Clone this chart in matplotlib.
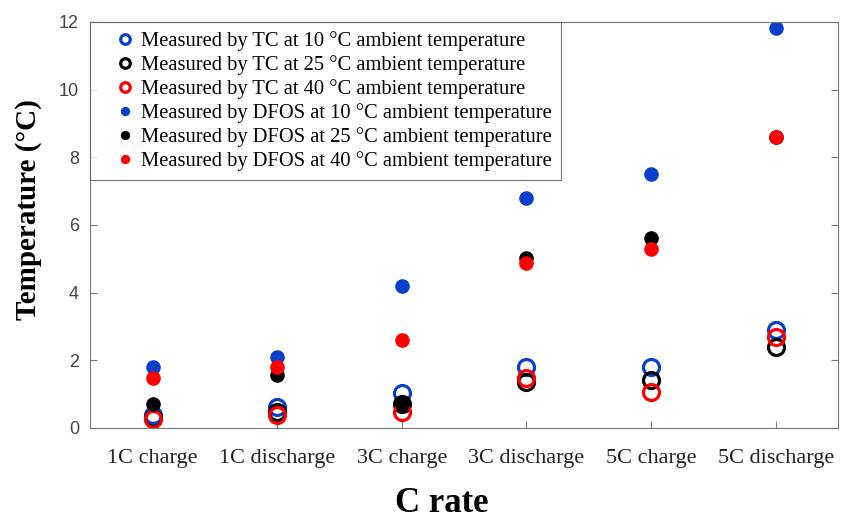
import matplotlib.pyplot as plt
import numpy as np

categories = ['1C charge', '1C discharge', '3C charge', '3C discharge', '5C charge', '5C discharge']

tc_10 = [0.38, 0.61, 1.03, 1.81, 1.79, 2.90]
tc_25 = [0.30, 0.48, 0.71, 1.35, 1.42, 2.38]
tc_40 = [0.26, 0.38, 0.48, 1.49, 1.07, 2.70]
dfos_10 = [1.80, 2.11, 4.18, 6.79, 7.51, 11.82]
dfos_25 = [0.70, 1.57, 0.72, 5.02, 5.60, 8.60]
dfos_40 = [1.49, 1.79, 2.60, 4.87, 5.28, 8.60]

blue = '#0a3fcc'
serif = ['Liberation Serif', 'DejaVu Serif']

x = np.arange(1, len(categories) + 1)

fig = plt.figure(figsize=(8.43, 5.2), dpi=100)
ax = fig.add_axes([0.107, 0.177, 0.887, 0.781])

ax.plot(x, tc_10, 'o', mfc='none', mec=blue, mew=2.3, ms=11.5, label='Measured by TC at 10 \u00b0C ambient temperature')
ax.plot(x, tc_25, 'o', mfc='none', mec='black', mew=2.3, ms=11.5, label='Measured by TC at 25 \u00b0C ambient temperature')
ax.plot(x, tc_40, 'o', mfc='none', mec='red', mew=2.3, ms=11.5, label='Measured by TC at 40 \u00b0C ambient temperature')
ax.plot(x, dfos_10, 'o', color=blue, ms=9.5, label='Measured by DFOS at 10 \u00b0C ambient temperature')
ax.plot(x, dfos_25, 'o', color='black', ms=9.5, label='Measured by DFOS at 25 \u00b0C ambient temperature')
ax.plot(x, dfos_40, 'o', color='red', ms=9.5, label='Measured by DFOS at 40 \u00b0C ambient temperature')

ax.set_xlim(0.5, 6.5)
ax.set_ylim(0, 12)
ax.set_xticks(x)
ax.set_xticklabels(categories, fontfamily=serif, fontsize=16, color='#222222')
ax.set_yticks([0, 2, 4, 6, 8, 10, 12])
for lab in ax.get_yticklabels():
    lab.set_fontfamily(['Liberation Sans', 'DejaVu Sans'])
    lab.set_fontsize(13)
    lab.set_color('#444444')
ax.tick_params(direction='in', right=True, length=5, color='#777777')
ax.tick_params(axis='x', pad=15)
ax.tick_params(axis='y', pad=8)
for s in ax.spines.values():
    s.set_color('#777777')

ax.set_ylabel('Temperature (\u00b0C)', fontfamily=serif, fontsize=21, fontweight='bold')
ax.set_xlabel('C rate', fontfamily=serif, fontsize=25, fontweight='bold')
ax.yaxis.set_label_coords(-0.064, 0.537)
ax.xaxis.set_label_coords(0.47, -0.145)

leg = ax.legend(loc='upper left', prop={'family': serif, 'size': 14.8}, fancybox=False,
                borderaxespad=0, handletextpad=-0.45, handlelength=2.45, labelspacing=0.2,
                markerscale=0.6, borderpad=0.45)
leg.get_frame().set_edgecolor('#555555')
leg.get_frame().set_linewidth(0.8)

plt.savefig('out.png')
